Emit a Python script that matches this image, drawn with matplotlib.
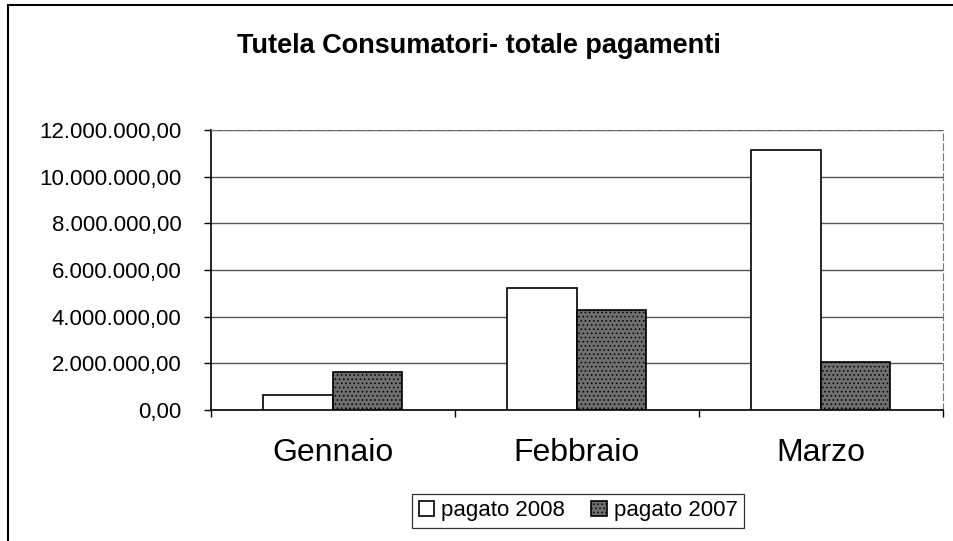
import numpy as np
import matplotlib.pyplot as plt
from matplotlib.patches import Rectangle
from matplotlib.ticker import FuncFormatter

plt.rcParams['font.family'] = ['Liberation Sans', 'DejaVu Sans']
plt.rcParams['hatch.linewidth'] = 0.6

# data
mesi = ["Gennaio", "Febbraio", "Marzo"]
pagato_2008 = [640000, 5230000, 11150000]
pagato_2007 = [1630000, 4280000, 2080000]
serie = ["pagato 2008", "pagato 2007"]
y_ticks = [0, 2000000, 4000000, 6000000, 8000000, 10000000, 12000000]


def fmt_it(v, pos=None):
    # italian style: 12.000.000,00
    s = f"{v:,.2f}"
    return s.replace(",", "X").replace(".", ",").replace("X", ".")


fig = plt.figure(figsize=(9.54, 5.41), dpi=100)
ax = fig.add_axes([0.221, 0.242, 0.767, 0.518])

x = np.arange(len(mesi))
w = 0.285
ax.bar(x - w / 2, pagato_2008, w, color="white", edgecolor="black",
       linewidth=1.2, label=serie[0], zorder=3)
ax.bar(x + w / 2, pagato_2007, w, color="#6e6e6e", edgecolor="black",
       hatch="....", linewidth=1.2, label=serie[1], zorder=3)

ax.set_xlim(-0.5, 2.5)
ax.set_ylim(0, 12000000)
ax.set_yticks(y_ticks)
ax.yaxis.set_major_formatter(FuncFormatter(fmt_it))
ax.set_xticks([-0.5, 0.5, 1.5, 2.5], minor=False)
ax.set_xticklabels([])
ax.set_xticks(x, minor=True)
ax.set_xticklabels(mesi, minor=True, fontsize=23)
ax.tick_params(axis="x", which="minor", length=0, pad=20)
ax.tick_params(axis="x", which="major", length=5, direction="out", width=1)
ax.tick_params(axis="y", labelsize=16, length=5, pad=16, width=1)

ax.grid(axis="y", color="#555555", linewidth=1, zorder=0)
for side in ["top", "right"]:
    ax.spines[side].set_color("#777777")
    ax.spines[side].set_linestyle((0, (6, 3)))
    ax.spines[side].set_linewidth(0.8)
ax.spines["left"].set_linewidth(1.2)
ax.spines["bottom"].set_linewidth(1.2)

fig.text(0.502, 0.915, "Tutela Consumatori- totale pagamenti",
         ha="center", va="center", fontsize=19.5, fontweight="bold")

leg = fig.legend(loc="center", bbox_to_anchor=(0.606, 0.056), ncol=2,
                 fontsize=16, frameon=True, fancybox=False,
                 edgecolor="black", handlelength=0.7, handleheight=0.7,
                 handletextpad=0.3, columnspacing=1.2, borderpad=0.3)
leg.get_frame().set_linewidth(0.9)

# outer chart-area border of the scan
fig.patches.append(Rectangle((8 / 954, -0.01), 1.0, 1 - 5 / 541 + 0.01,
                             transform=fig.transFigure, fill=False,
                             edgecolor="black", linewidth=1.5))

fig.savefig("out.png", dpi=100)
